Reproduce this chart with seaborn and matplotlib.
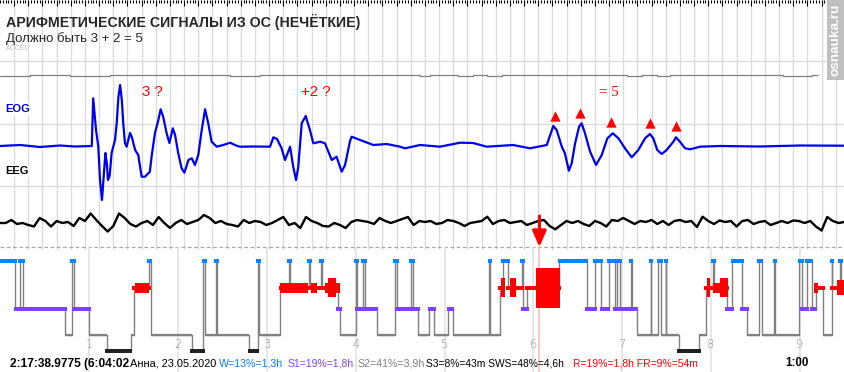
import numpy as np
import pandas as pd
import matplotlib
matplotlib.use("Agg")
import matplotlib.pyplot as plt
from matplotlib.ticker import MultipleLocator
import seaborn as sns

sns.set_theme(style="white")
plt.rcParams['font.family'] = ['Liberation Sans', 'DejaVu Sans']

# ------------------------------------------------------------------ data
title = "АРИФМЕТИЧЕСКИЕ СИГНАЛЫ ИЗ ОС (НЕЧЁТКИЕ)"
subtitle = "Должно быть 3 + 2 = 5"
channel_labels = ["EOG", "EEG"]
note_texts = ["3 ?", "+2 ?", "= 5"]
note_t = [5.37, 11.15, 21.50]          # seconds
note_amp = [54, 54, 54]

# EOG trace (seconds, amplitude relative to baseline, up = positive)
eog_t = [0.00, 0.71, 1.41, 2.12, 2.65, 3.24, 3.29, 3.39, 3.47, 3.53, 3.60, 3.65,
         3.72, 3.77, 3.81, 3.87, 3.94, 4.06, 4.12, 4.18, 4.24, 4.30, 4.35, 4.41,
         4.47, 4.59, 4.65, 4.77, 4.88, 5.00, 5.12, 5.29, 5.35, 5.47, 5.59, 5.67,
         5.76, 5.88, 5.98, 6.10, 6.18, 6.29, 6.41, 6.51, 6.65, 6.77, 6.88, 7.00,
         7.12, 7.24, 7.35, 7.47, 7.65, 7.88, 8.12, 8.35, 8.47, 9.00, 9.53, 9.65,
         9.78, 9.94, 10.06, 10.24, 10.35, 10.45, 10.53, 10.65, 10.79, 10.94, 11.06,
         11.30, 11.47, 11.59, 11.71, 11.88, 12.06, 12.18, 12.35, 12.41, 12.71, 13.18,
         13.65, 14.12, 14.30, 14.83, 15.53, 16.24, 16.70, 17.18, 18.11, 18.71, 19.30,
         19.44, 19.53, 19.65, 19.83, 19.94, 20.08, 20.18, 20.30, 20.44, 20.53, 20.65,
         20.83, 21.04, 21.24, 21.44, 21.63, 21.83, 22.06, 22.30, 22.53, 22.77, 22.94,
         23.06, 23.20, 23.36, 23.53, 23.77, 23.86, 24.00, 24.18, 24.36, 24.71, 25.41,
         26.83, 28.24, 29.83]
eog_amp = [0, 1, -1, 0.5, -0.5, 0, 47.7, 16, -0.7, -34, -54, -34,
           -7, -17, -34, -30, -7, 6, 23, 49.3, 61, 46, 23, 3,
           -0.7, 13, 9.3, -4, -9, -30.7, -30.7, -25.7, -10.7, 13, 26, 36.7,
           29.3, 13, 3, 17.7, 11, -7, -22.3, -26.7, -14, -12.3, -19, -9,
           16, 36.7, 22.7, 4.3, -0.7, 1, 3.3, 0.3, -0.7, -0.5, -0.7, 8.7,
           7, -2.3, -14, -0.7, -20.7, -34, -20.7, 22.7, 30, 16, 2.7,
           4.3, 2.7, -5.7, -14, -10.7, -25.7, -19, 4.3, 9.3, 6, 1,
           2, -0.7, -2.3, 1, -0.7, 3.3, 3, -0.7, 1, -2.3, 1,
           12.7, 20, 16, -0.7, -7.3, -24.7, -17.3, 2.7, 19.3, 22.7, 12.7,
           -5.7, -19, -9, 7.7, 12.7, 7.7, -2.3, -11.3, -4, 7.7, 12,
           7.7, -4, -8, -4, 4.3, 8.7, 4.3, -2.3, -3.3, -0.7, 0,
           -0.5, 0.5, 0.3]

# triangles over the "= 5" peaks
marker_t = [19.60, 20.48, 21.58, 22.96, 23.87]
marker_amp = [30.5, 33, 24, 23, 20]

# EEG trace, one value every 0.2 s
eeg_dt = 0.2
eeg_amp = [0, 0, 3, -1, 0, -2, -3.5, 5, 2, -3.5, 2, 0, 1, -3, 5, 2, 9.5, 3, -3, -8.5,
           -3, 9.5, 5, -1, -3.5, 0, 2, -2, 6, 0, -5, 0, 3, -1, 1, 3, 8, 5, 0, 2,
           -1, -2, -3.5, 3, 0, 2, 1, -2, 0, 3, 6, -2, 0, -5, 6, 2, 0, -3, -3.5, 0,
           -2, -5, 1, 3, 2, 1, -1, 5, 2, 0, 2, 4, 6, -2, 2, 1, 2, -1, 0, 3,
           2, 0, -3, 0, 1, 2, 6.3, -1, 2, 3, 0, 1, 2, -2, 0, 2, 3, -3, -6.3, -2,
           2, 0, 2, -1, -3, 2, 0, -3.5, 3, 2, 5, 2, -1, 2, 1, 3, -1, 2, -2, 2,
           3, 1, 2, -4, 6.3, 2, -1, 2.5, 1, 2, -3.5, 2, 3, -1, 1, 2, -2, 0, 2, 0,
           2.5, 2, 0, 2, -3.5, -7.5, 6, 2, 0, 1]

# ACCEL trace (step values)
accel_t = [0.00, 1.06, 2.47, 3.88, 5.29, 7.06, 8.12, 9.18, 10.59, 14.83, 15.18,
           16.17, 16.70, 17.19, 17.72, 18.25, 21.64, 22.13, 22.66, 23.19, 23.65,
           24.18, 26.65, 27.64, 28.66, 28.87]
accel_amp = [-0.7, 0.7, -0.7, 0.7, 0, 0.7, -0.7, 0.7, 0, -0.7, 0.7, -0.7, 0.7,
             -0.7, 0.7, 0, 0.7, -0.7, 0.7, -0.7, 0.7, 0, 0.7, -0.7, 0.7, 0.7]

# hypnogram: stage start times (hours) and stages
hyp_start = [0.000, 0.167, 0.220, 0.257, 0.723, 0.805, 0.828, 1.000, 1.196, 1.466,
             1.503, 1.672, 1.691, 2.153, 2.284, 2.300, 2.427, 2.441, 2.802, 2.896,
             2.911, 3.151, 3.252, 3.260, 3.477, 3.489, 3.609, 3.620, 3.804, 3.823,
             4.003, 4.018, 4.079, 4.108, 4.236, 4.443, 4.468, 4.623, 4.649, 4.705,
             4.829, 4.882, 5.043, 5.092, 5.505, 5.516, 5.625, 5.655, 5.712, 5.876,
             5.887, 5.926, 6.293, 6.601, 6.698, 6.766, 6.849, 6.923, 6.946, 6.976,
             7.097, 7.108, 7.164, 7.322, 7.329, 7.408, 7.435, 7.491, 7.498, 7.637,
             7.869, 7.941, 8.020, 8.032, 8.178, 8.241, 8.347, 8.410, 8.545, 8.572,
             8.714, 8.725, 8.996, 9.029, 9.082, 9.135, 9.180, 9.266, 9.360, 9.367,
             9.455, 9.470]
hyp_stage = ['W', 'S1', 'W', 'S1', 'S2', 'W', 'S1', 'S2', 'S3', 'S2',
             'R', 'W', 'S2', 'S3', 'W', 'S2', 'W', 'S2', 'S3', 'W',
             'S2', 'R', 'W', 'R', 'W', 'R', 'W', 'R', 'S1', 'S2',
             'W', 'S1', 'W', 'S1', 'S2', 'W', 'S1', 'W', 'S1', 'S2',
             'S1', 'S2', 'S1', 'S2', 'W', 'S2', 'R', 'W', 'R', 'W',
             'S1', 'R', 'W', 'S1', 'W', 'S1', 'W', 'S1', 'W', 'S1',
             'W', 'S1', 'S2', 'W', 'S2', 'W', 'S2', 'W', 'S2', 'S3',
             'S2', 'R', 'W', 'R', 'S1', 'W', 'S1', 'S2', 'W', 'S2',
             'W', 'S2', 'W', 'S1', 'W', 'S1', 'R', 'S2', 'W', 'R',
             'W', 'R']
hyp_end = 9.51

# REM density blocks (hours) and density level
rem_start = [1.515, 3.151, 3.497, 3.654, 3.692, 5.633, 5.737, 6.030, 7.953, 8.027,
             8.103, 9.161, 9.420]
rem_end = [1.672, 3.466, 3.561, 3.823, 3.778, 5.681, 5.805, 6.301, 7.990, 8.103,
           8.196, 9.209, 9.510]
rem_level = [1, 1, 1, 1, 2, 2, 2, 3, 2, 1, 2, 1, 1.5]

hour_ticks = [1, 2, 3, 4, 5, 6, 7, 8, 9]
cursor_hour = 6.0672
cursor_sec = 19.04

stats = [("2:17:38.9775 (6:04:02", "bold", "#000000", 8.55),
         ("Анна, 23.05.2020", "normal", "#000000", 7.9),
         ("W=13%=1,3h", "normal", "#0A7CFF", 7.65),
         ("S1=19%=1,8h", "normal", "#7F3FFF", 7.5),
         ("S2=41%=3,9h", "normal", "#808080", 7.65),
         ("S3=8%=43m SWS=48%=4,6h", "normal", "#000000", 7.4),
         ("R=19%=1,8h FR=9%=54m", "normal", "#FF0000", 7.5),
         ("1:00", "bold", "#000000", 8.3)]
stats_x = [10.5, 130, 219, 288, 357, 426, 572.7, 785]

# ------------------------------------------------------------------ layout / style
W_PX, H_PX = 845, 372
SEC_PX = 28.33
HOUR_PX = 88.8
SIG_H = 250
base = {"ACCEL": 75.2, "EOG": 146.0, "EEG": 223.0}
stage_y = {"W": 260.7, "R": 287.7, "S1": 308.7, "S2": 334.7, "S3": 351.0}
stage_col = {"W": "#0A84FF", "R": "#FF0000", "S1": "#7F3FFF", "S3": "#202020"}
stage_h = {"W": 4.0, "R": 4.0, "S1": 4.0, "S3": 3.6}
rem_h = {1: 10, 1.5: 15, 2: 19, 3: 40}

fig = plt.figure(figsize=(W_PX / 100, H_PX / 100), dpi=100)
fig.patch.set_facecolor("white")

# ---------------- signal panel
ax = fig.add_axes([0, 1 - SIG_H / H_PX, 1, SIG_H / H_PX])
ax.set_xlim(0, W_PX / SEC_PX)
ax.set_ylim(SIG_H, 0)
for s in ax.spines.values():
    s.set_visible(False)
ax.set_xticks(np.arange(0.5, W_PX / SEC_PX, 0.5))
ax.set_yticks([61, 123.5, 186])
ax.xaxis.set_minor_locator(MultipleLocator(0.1))
ax.grid(True, which="major", color="#DADADA", lw=0.9)
ax.tick_params(which="both", top=True, bottom=False, left=False, direction="in",
               labelbottom=False, labelleft=False, color="black")
ax.tick_params(which="major", axis="x", length=4.5, width=0.8)
ax.tick_params(which="minor", axis="x", length=2.5, width=0.8)
ax.tick_params(axis="y", length=0)

eog = pd.DataFrame({"t": eog_t, "y": base["EOG"] - np.array(eog_amp)})
eeg = pd.DataFrame({"t": np.arange(len(eeg_amp)) * eeg_dt,
                    "y": base["EEG"] - np.array(eeg_amp)})
acc = pd.DataFrame({"t": accel_t, "y": base["ACCEL"] - np.array(accel_amp)})

sns.lineplot(data=acc, x="t", y="y", ax=ax, color="#808080", lw=0.9, sort=False,
             estimator=None, drawstyle="steps-post")
sns.lineplot(data=eeg, x="t", y="y", ax=ax, color="black", lw=1.7, sort=False,
             estimator=None)
sns.lineplot(data=eog, x="t", y="y", ax=ax, color="#0000F0", lw=1.6, sort=False,
             estimator=None)
mk = pd.DataFrame({"t": marker_t, "y": base["EOG"] - np.array(marker_amp)})
sns.scatterplot(data=mk, x="t", y="y", ax=ax, marker="^", s=55, color="#FF0000",
                edgecolor="#FF0000", linewidth=0, zorder=5)
ax.set_xlabel("")
ax.set_ylabel("")

ax.axhline(246.5, color="#A8A8A8", lw=0.9, ls=(0, (3, 2)))
ax.annotate("", xy=(cursor_sec, 247), xytext=(cursor_sec, 216),
            arrowprops=dict(arrowstyle="-|>,head_width=0.35,head_length=0.8",
                            color="#FF0000", lw=2.2, shrinkA=0, shrinkB=0), zorder=6)

for txt, t, a in zip(note_texts, note_t, note_amp):
    fam = ["Liberation Serif"] if txt.startswith("=") else ["Liberation Sans"]
    ax.text(t, base["EOG"] - a, txt, color="#FF0000", fontsize=10.8, ha="center",
            va="center", family=fam)

lab_bbox = dict(facecolor="white", edgecolor="none", pad=1)
ax.text(5 / SEC_PX, 109, channel_labels[0], color="#0000F0", fontsize=8,
        fontweight="bold", va="center", ha="left", bbox=lab_bbox)
ax.text(5 / SEC_PX, 171, channel_labels[1], color="black", fontsize=8,
        fontweight="bold", va="center", ha="left", bbox=lab_bbox)

# ---------------- hypnogram panel
axh = fig.add_axes([0, 0, 1, 125 / H_PX])
axh.patch.set_alpha(0)
axh.set_xlim(-0.5 / HOUR_PX, (W_PX - 0.5) / HOUR_PX)
axh.set_ylim(H_PX, 247)
for s in axh.spines.values():
    s.set_visible(False)
axh.set_xticks(hour_ticks)
axh.set_yticks([])
axh.grid(True, axis="x", color="#E3E3E3", lw=1.2)
axh.set_axisbelow(True)
axh.tick_params(length=0, labelbottom=False, labelleft=False)

for h in hour_ticks:
    axh.text(h, 343.5, str(h), color="#909090", fontsize=8.3, ha="center",
             va="center", family=["DejaVu Sans"], fontweight="light")

ends = hyp_start[1:] + [hyp_end]
xs = hyp_start + [hyp_end]
ys = [stage_y[s] for s in hyp_stage] + [stage_y[hyp_stage[-1]]]
axh.step(xs, ys, where="post", color="#808080", lw=1.0, zorder=2)

pad = 1.8 / HOUR_PX
for st, a, b in zip(hyp_stage, hyp_start, ends):
    if st == "S2":
        axh.hlines(stage_y["S2"], a, b, color="#808080", lw=1.6, zorder=2)
    else:
        hh = stage_h[st]
        axh.bar(x=a - pad, height=hh, width=(b - a) + 2 * pad,
                bottom=stage_y[st] - hh / 2, align="edge", color=stage_col[st],
                linewidth=0, zorder=3)
for a, b, lv in zip(rem_start, rem_end, rem_level):
    hh = rem_h[lv]
    axh.bar(x=a, height=hh, width=b - a, bottom=stage_y["R"] - hh / 2,
            align="edge", color="#FF0000", linewidth=0, zorder=3)

axh.axvline(cursor_hour, color="#F6B8B8", lw=1.1, zorder=1)

# ---------------- texts
fig.text(6 / W_PX, 1 - 21.5 / H_PX, title, fontsize=10.2, fontweight="bold",
         va="center", ha="left")
fig.text(6 / W_PX, 1 - 39 / H_PX, subtitle, fontsize=9.5, va="center", ha="left")
fig.text(6 / W_PX, 1 - 49 / H_PX, "ACCEL", fontsize=5, color="#C4C4C4",
         va="center", ha="left")

for (txt, wt, col, fs), x in zip(stats, stats_x):
    fig.text(x / W_PX, 1 - 363.5 / H_PX, txt, fontsize=fs, fontweight=wt,
             color=col, va="center", ha="left")

# watermark
fig.patches.append(plt.Rectangle((827 / W_PX, 1 - 80 / H_PX), 18 / W_PX, 80 / H_PX,
                                 transform=fig.transFigure, facecolor="#C0C0C0",
                                 edgecolor="none", zorder=10))
fig.text(836 / W_PX, 1 - 40 / H_PX, "osnauka.ru", rotation=90, color="white",
         fontsize=9.7, fontweight="bold", ha="center", va="center", zorder=11)

fig.savefig("out.png", dpi=100, facecolor="white")
